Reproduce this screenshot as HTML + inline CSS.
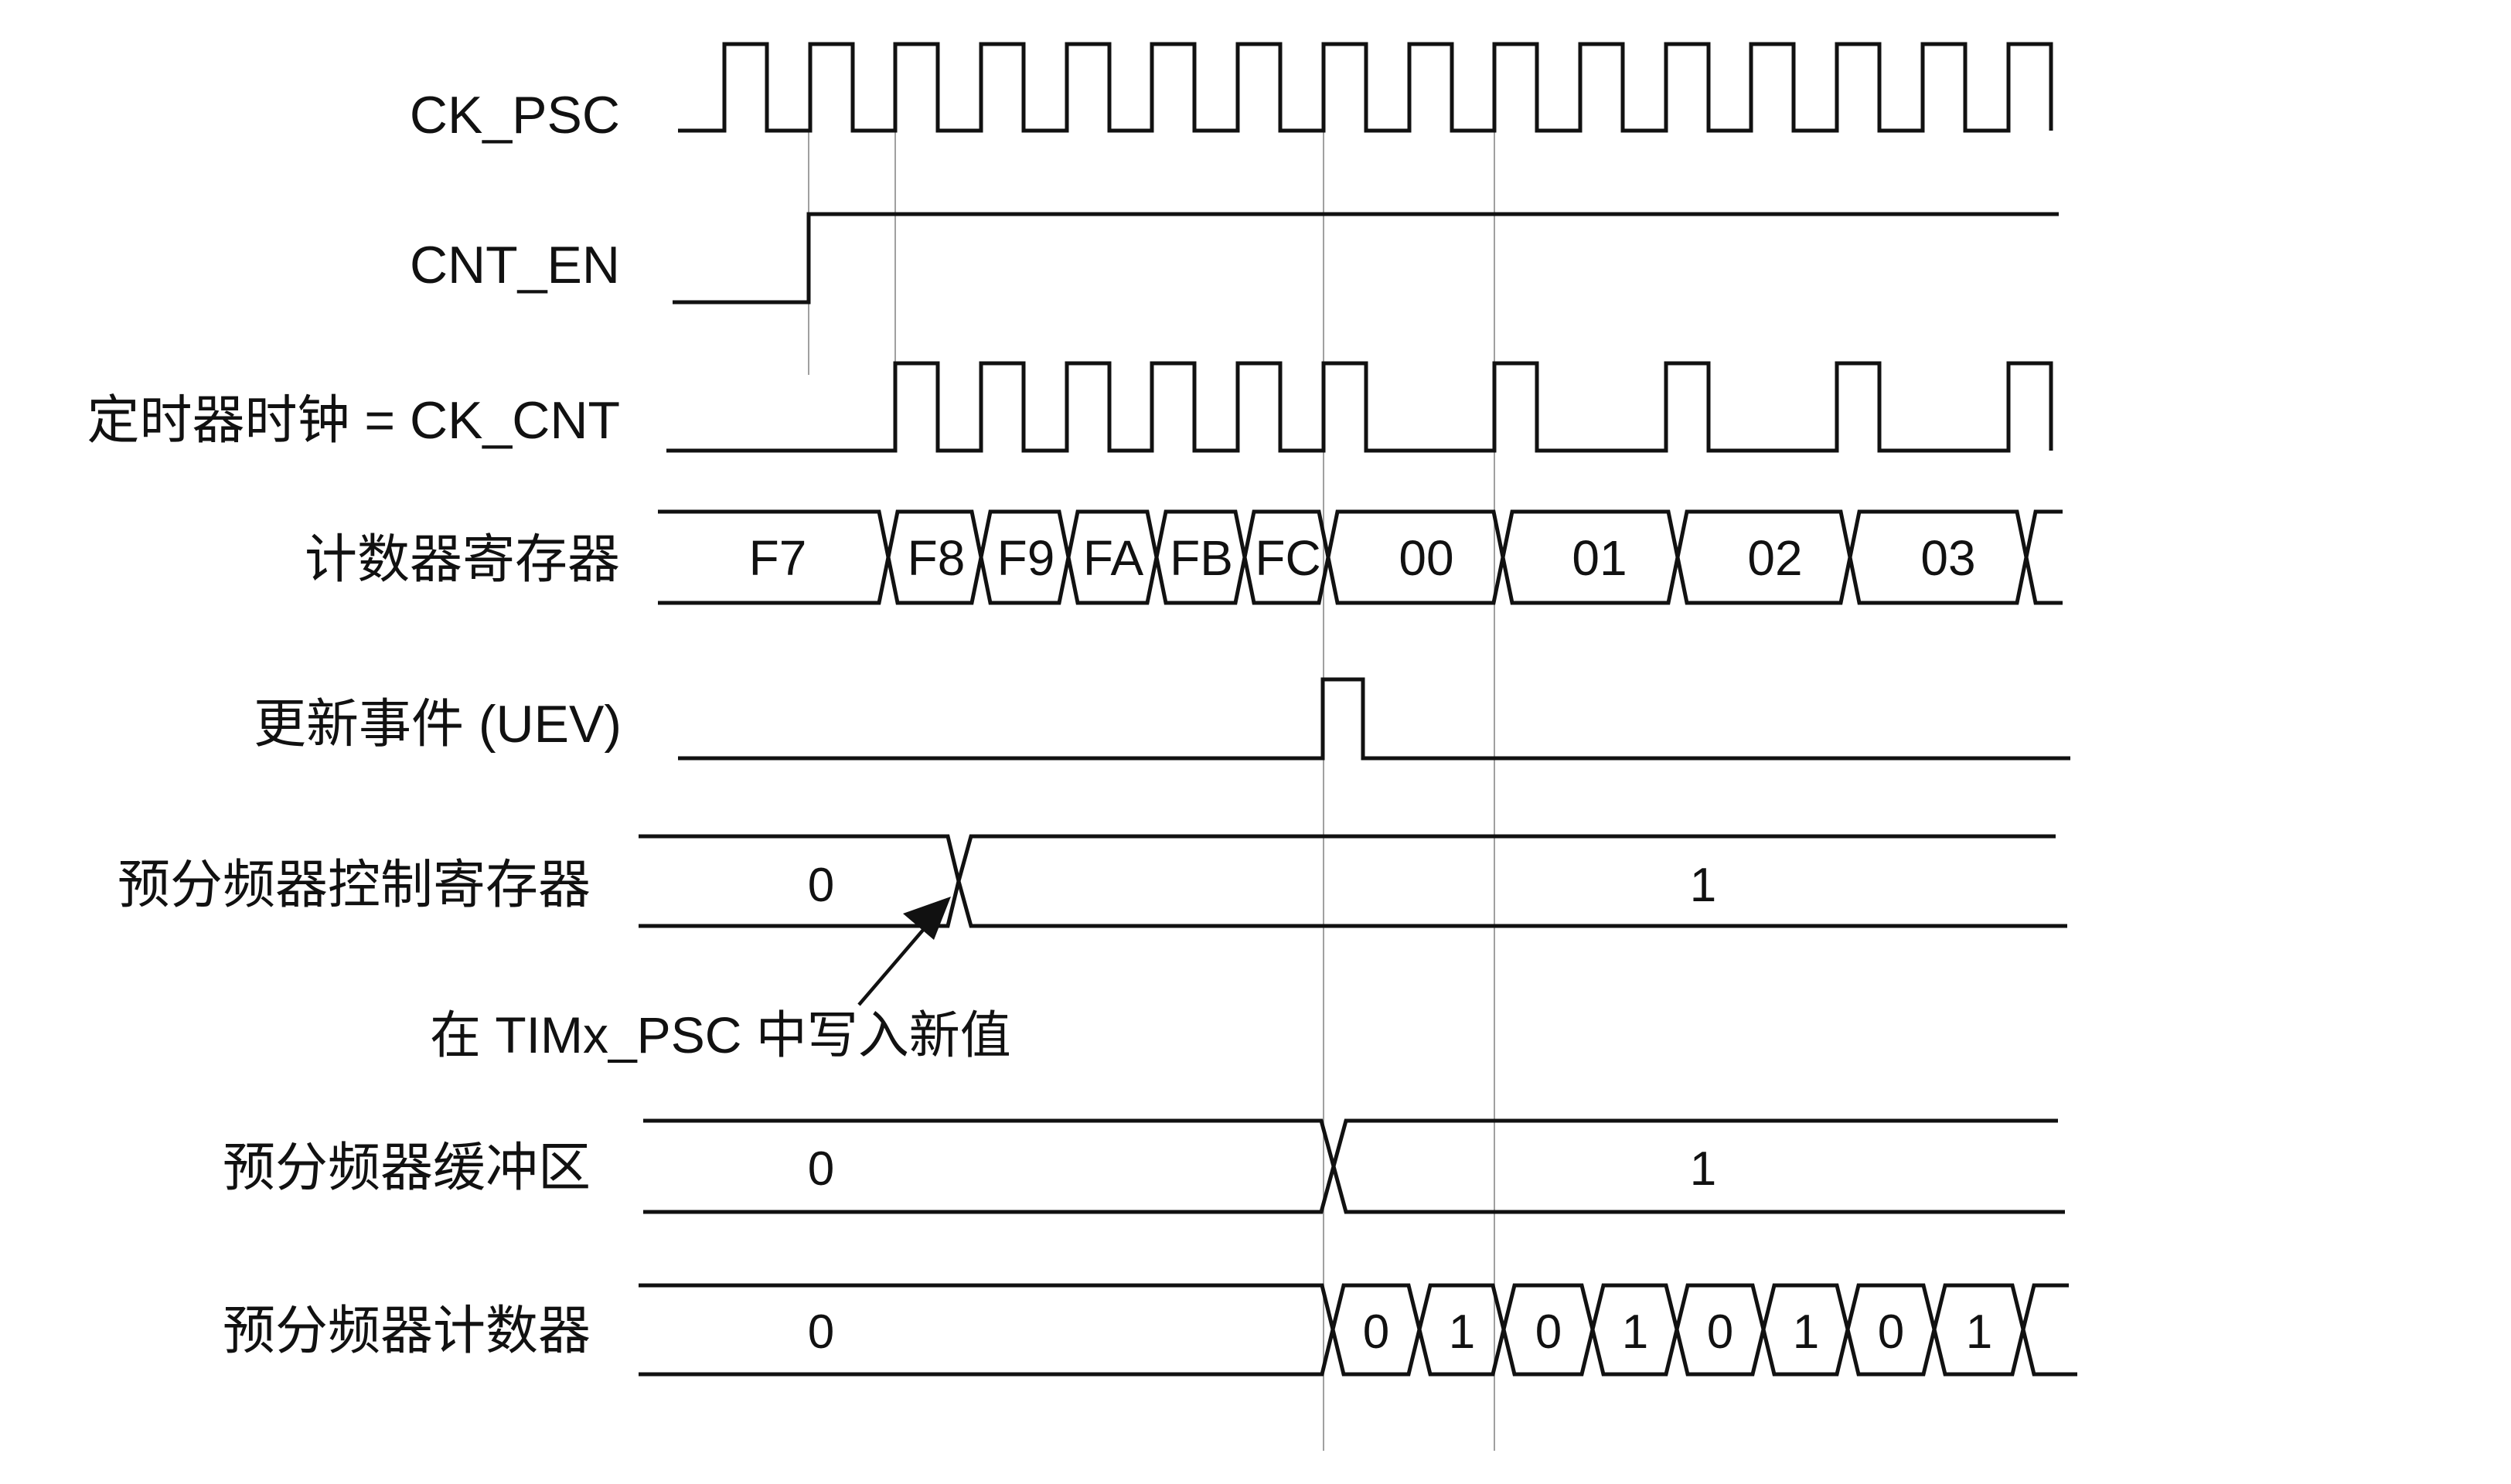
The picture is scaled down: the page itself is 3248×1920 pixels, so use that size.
<!DOCTYPE html>
<html><head><meta charset="utf-8"><style>
html,body{margin:0;padding:0;background:#fff;}
svg{display:block;}
text{font-family:"Liberation Sans","Noto Sans CJK SC",sans-serif;fill:#111;}
</style></head><body>
<svg width="3248" height="1920" viewBox="0 0 3248 1920" xmlns="http://www.w3.org/2000/svg">
<g stroke="#888" stroke-width="1.6" fill="none">
<line x1="1046" y1="169" x2="1046" y2="485"/>
<line x1="1158" y1="169" x2="1158" y2="470"/>
<line x1="1712" y1="169" x2="1712" y2="1877"/>
<line x1="1933" y1="169" x2="1933" y2="1877"/>
</g>
<g stroke="#111" stroke-width="5" fill="none" stroke-linejoin="miter">
<path d="M877 169 H937 V57 H992 V169 H1048 V57 H1103 V169 H1158 V57 H1213 V169 H1269 V57 H1324 V169 H1380 V57 H1435 V169 H1490 V57 H1545 V169 H1601 V57 H1656 V169 H1712 V57 H1767 V169 H1823 V57 H1878 V169 H1933 V57 H1988 V169 H2044 V57 H2099 V169 H2155 V57 H2210 V169 H2265 V57 H2320 V169 H2376 V57 H2431 V169 H2487 V57 H2542 V169 H2598 V57 H2653 V169"/>
<path d="M870 391 H1046 V277 H2663"/>
<path d="M862 583 H1158 V470 H1213 V583 H1269 V470 H1324 V583 H1380 V470 H1435 V583 H1490 V470 H1545 V583 H1601 V470 H1656 V583 H1712 V470 H1767 V583 H1933 V470 H1988 V583 H2155 V470 H2210 V583 H2376 V470 H2431 V583 H2598 V470 H2653 V583"/>
<path d="M851 662 H1137 L1149 721 L1137 780 H851"/>
<path d="M1149 721 L1161 662 H1257 L1269 721 L1257 780 H1161 Z"/>
<path d="M1269 721 L1281 662 H1370 L1382 721 L1370 780 H1281 Z"/>
<path d="M1382 721 L1394 662 H1484 L1496 721 L1484 780 H1394 Z"/>
<path d="M1496 721 L1508 662 H1598 L1610 721 L1598 780 H1508 Z"/>
<path d="M1610 721 L1622 662 H1706 L1718 721 L1706 780 H1622 Z"/>
<path d="M1718 721 L1730 662 H1932 L1944 721 L1932 780 H1730 Z"/>
<path d="M1944 721 L1956 662 H2158 L2170 721 L2158 780 H1956 Z"/>
<path d="M2170 721 L2182 662 H2381 L2393 721 L2381 780 H2182 Z"/>
<path d="M2393 721 L2405 662 H2609 L2621 721 L2609 780 H2405 Z"/>
<path d="M2668 662 H2633 L2621 721 L2633 780 H2668"/>
<path d="M877 981 H1711 V879 H1763 V981 H2678"/>
<path d="M826 1082 H1226 L1240 1140 L1226 1198 H826"/>
<path d="M2659 1082 H1256 L1240 1140 L1256 1198 H2674"/>
<path d="M832 1450 H1709 L1725 1509 L1709 1568 H832"/>
<path d="M2662 1450 H1741 L1725 1509 L1741 1568 H2671"/>
<path d="M826 1663 H1710 L1724 1720 L1710 1778 H826"/>
<path d="M1724 1720 L1738 1663 H1822 L1836 1720 L1822 1778 H1738 Z"/>
<path d="M1836 1720 L1850 1663 H1931 L1945 1720 L1931 1778 H1850 Z"/>
<path d="M1945 1720 L1959 1663 H2046 L2060 1720 L2046 1778 H1959 Z"/>
<path d="M2060 1720 L2074 1663 H2155 L2169 1720 L2155 1778 H2074 Z"/>
<path d="M2169 1720 L2183 1663 H2267 L2281 1720 L2267 1778 H2183 Z"/>
<path d="M2281 1720 L2295 1663 H2376 L2390 1720 L2376 1778 H2295 Z"/>
<path d="M2390 1720 L2404 1663 H2488 L2502 1720 L2488 1778 H2404 Z"/>
<path d="M2502 1720 L2516 1663 H2603 L2617 1720 L2603 1778 H2516 Z"/>
<path d="M2676 1663 H2631 L2617 1720 L2631 1778 H2687"/>
<line x1="1111" y1="1300" x2="1195" y2="1202" stroke-width="4.5"/>
</g>
<polygon points="1230,1160 1168,1182 1208,1216" fill="#111"/>
<g font-size="68" text-anchor="end">
<text x="802" y="172">CK_PSC</text>
<text x="802" y="366">CNT_EN</text>
<text x="802" y="567">定时器时钟 = CK_CNT</text>
<text x="802" y="747">计数器寄存器</text>
<text x="804" y="960">更新事件 (UEV)</text>
<text x="764" y="1168">预分频器控制寄存器</text>
<text x="764" y="1534">预分频器缓冲区</text>
<text x="764" y="1745">预分频器计数器</text>
</g>
<text x="556" y="1362" font-size="66">在 TIMx_PSC 中写入新值</text>
<g font-size="64" text-anchor="middle">
<text x="1006" y="744">F7</text>
<text x="1211" y="744">F8</text>
<text x="1327" y="744">F9</text>
<text x="1440" y="744">FA</text>
<text x="1554" y="744">FB</text>
<text x="1666" y="744">FC</text>
<text x="1845" y="744">00</text>
<text x="2069" y="744">01</text>
<text x="2296" y="744">02</text>
<text x="2520" y="744">03</text>
</g>
<g font-size="62" text-anchor="middle">
<text x="1062" y="1166">0</text>
<text x="2203" y="1166">1</text>
<text x="1062" y="1533">0</text>
<text x="2203" y="1533">1</text>
<text x="1062" y="1744">0</text>
<text x="1780" y="1744">0</text>
<text x="1891" y="1744">1</text>
<text x="2003" y="1744">0</text>
<text x="2115" y="1744">1</text>
<text x="2225" y="1744">0</text>
<text x="2336" y="1744">1</text>
<text x="2446" y="1744">0</text>
<text x="2560" y="1744">1</text>
</g>
</svg>
</body></html>
